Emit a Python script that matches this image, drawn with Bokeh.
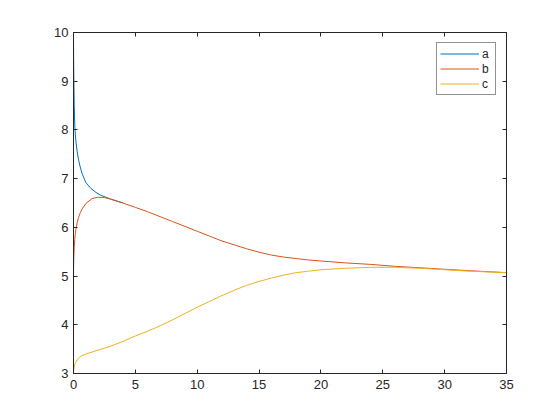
from bokeh.plotting import figure
from bokeh.models import Range1d, FixedTicker, LinearAxis, CustomJSTickFormatter, Legend, LegendItem
from bokeh.embed import file_html
from bokeh.resources import INLINE

# ---- data ----
a_x = [0, 0.01, 0.03, 0.06, 0.1, 0.15, 0.2, 0.3, 0.4, 0.5, 0.7, 1.0, 1.4, 1.8, 2.2, 2.6, 3.0, 3.5, 4.0]
a_y = [10, 9.5, 9.0, 8.5, 8.1, 7.9, 7.75, 7.55, 7.4, 7.28, 7.1, 6.92, 6.8, 6.72, 6.66, 6.62, 6.58, 6.54, 6.5]

b_x = [0, 0.01, 0.03, 0.06, 0.1, 0.15, 0.2, 0.3, 0.4, 0.55, 0.7, 1.0, 1.5, 2.0, 2.5, 3.0, 4.0, 5, 6, 7, 8, 9, 10,
       11, 12, 13, 14, 15, 16, 17, 18, 19, 20, 22, 24, 26, 28, 30, 32, 35]
b_y = [5.0, 5.2, 5.42, 5.6, 5.75, 5.88, 5.97, 6.1, 6.2, 6.3, 6.38, 6.49, 6.59, 6.62, 6.61, 6.58, 6.5, 6.41, 6.32,
       6.22, 6.12, 6.02, 5.92, 5.82, 5.72, 5.64, 5.56, 5.49, 5.43, 5.39, 5.36, 5.33, 5.31, 5.27, 5.24, 5.2, 5.17,
       5.14, 5.11, 5.07]

c_x = [0, 0.02, 0.05, 0.1, 0.15, 0.3, 0.5, 0.7, 1, 2, 3, 4, 5, 6, 7, 8, 9, 10, 11, 12, 13, 14, 15, 16, 17, 18,
       19, 20, 22, 24, 26, 28, 30, 32, 35]
c_y = [3.0, 3.06, 3.12, 3.18, 3.22, 3.28, 3.34, 3.37, 3.4, 3.48, 3.56, 3.66, 3.77, 3.87, 3.98, 4.1, 4.23, 4.36,
       4.48, 4.6, 4.71, 4.81, 4.89, 4.96, 5.02, 5.07, 5.1, 5.13, 5.16, 5.18, 5.18, 5.16, 5.13, 5.1, 5.07]

x_ticks = [0, 5, 10, 15, 20, 25, 30, 35]
y_ticks = [3, 4, 5, 6, 7, 8, 9, 10]
labels = ["a", "b", "c"]
colors = ["#0072BD", "#D95319", "#EDB120"]

FONT = "Liberation Sans"
AX = "#262626"

p = figure(width=544, height=404, output_backend="svg", toolbar_location=None,
           x_range=Range1d(0, 35), y_range=Range1d(3, 10),
           min_border_left=73, min_border_right=38, min_border_top=32, min_border_bottom=31,
           background_fill_color="white", border_fill_color="white")
p.xgrid.visible = False
p.ygrid.visible = False
p.outline_line_color = AX
p.outline_line_width = 1

def style(ax, ticks):
    ax.ticker = FixedTicker(ticks=ticks)
    ax.major_tick_in = 4
    ax.major_tick_out = 0
    ax.minor_tick_in = 0
    ax.minor_tick_out = 0
    ax.axis_line_color = AX
    ax.major_tick_line_color = AX
    ax.major_label_text_color = AX
    ax.major_label_text_font = FONT
    ax.major_label_text_font_size = "13px"

style(p.xaxis[0], x_ticks)
style(p.yaxis[0], y_ticks)
p.xaxis[0].major_label_standoff = 6
p.yaxis[0].major_label_standoff = 5

top = LinearAxis(formatter=CustomJSTickFormatter(code="return ''"))
right = LinearAxis(formatter=CustomJSTickFormatter(code="return ''"))
style(top, x_ticks)
style(right, y_ticks)
top.major_label_standoff = 0
right.major_label_standoff = 0
p.add_layout(top, "above")
p.add_layout(right, "right")

series = [(a_x, a_y), (b_x, b_y), (c_x, c_y)]
items = []
for (xs, ys), lab, col in zip(series, labels, colors):
    r = p.line(xs, ys, line_color=col, line_width=1)
    items.append(LegendItem(label=lab, renderers=[r]))

leg = Legend(items=items, location="top_right", margin=10, padding=3, spacing=0,
             glyph_width=39, glyph_height=15, label_height=15, label_width=10, label_standoff=3,
             label_text_font=FONT, label_text_font_size="12px", label_text_color=AX,
             border_line_color=AX, border_line_width=1, background_fill_alpha=1)
p.add_layout(leg)

open("out.html", "w").write(file_html(p, INLINE))
